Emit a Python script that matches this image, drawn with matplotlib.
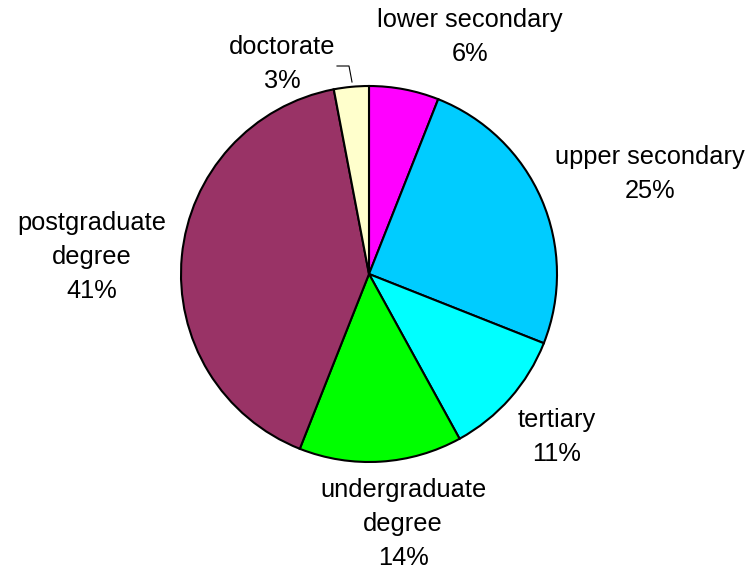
import matplotlib.pyplot as plt

# data
labels = ["lower secondary", "upper secondary", "tertiary",
          "undergraduate\ndegree", "postgraduate\ndegree", "doctorate"]
values = [6, 25, 11, 14, 41, 3]
colors = ["#FF00FF", "#00CCFF", "#00FFFF", "#00FF00", "#993366", "#FFFFCC"]

# label centres in pixel coords (x, y from top)
label_xy = [(470, 37), (650, 174), (557, 437), (403, 524), (92, 257), (282, 64)]

W, H = 749, 579
plt.rcParams["font.family"] = ["Liberation Sans", "DejaVu Sans"]

fig = plt.figure(figsize=(W / 100, H / 100), dpi=100)
ax = fig.add_axes([0, 0, 1, 1])

ax.pie(values, colors=colors, startangle=90, counterclock=False,
       center=(369, H - 274), radius=188, frame=True,
       wedgeprops={"edgecolor": "black", "linewidth": 1.5})
ax.set_xlim(0, W)
ax.set_ylim(0, H)
ax.set_aspect("equal")
ax.axis("off")

for lab, v, (x, y) in zip(labels, values, label_xy):
    ax.text(x, H - y, f"{lab}\n{v}%", ha="center", va="center",
            fontsize=18.3, linespacing=1.55)

# leader line for doctorate
ax.plot([337, 349, 352], [H - 66, H - 66, H - 82], color="black", lw=0.8)

plt.savefig("out.png", dpi=100)
